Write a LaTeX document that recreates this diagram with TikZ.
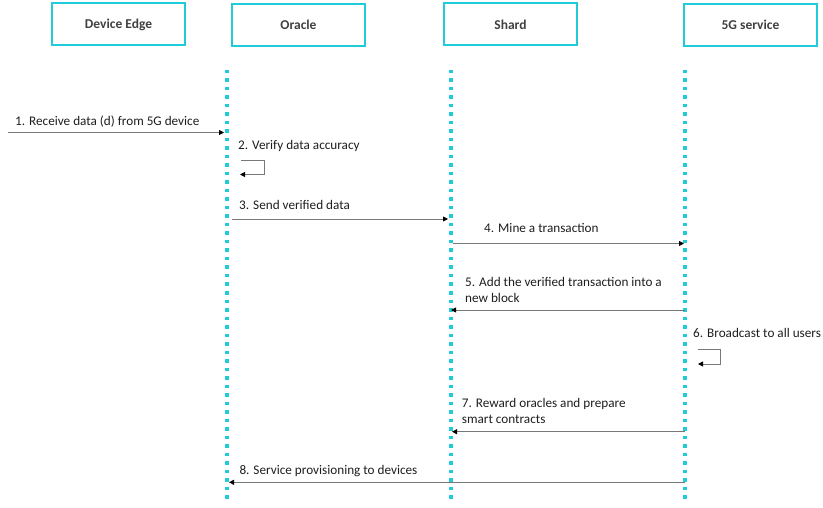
\documentclass[tikz,border=0pt]{standalone}
\usepackage{fontspec}
\setmainfont{Carlito}
\usetikzlibrary{arrows.meta}
\definecolor{cy}{RGB}{32,204,218}
\definecolor{hdr}{RGB}{64,64,64}
\definecolor{lbl}{RGB}{30,30,30}
\definecolor{ln}{RGB}{120,120,120}
\begin{document}
\begin{tikzpicture}[x=1pt,y=-1pt,
  actor/.style={draw=cy,line width=2pt,minimum width=133pt,minimum height=42pt,inner sep=0pt,font=\fontsize{13.5}{16}\selectfont\bfseries,text=hdr},
  life/.style={draw=cy,line width=3.5pt,dash pattern=on 3.5pt off 5pt},
  msg/.style={draw=ln,line width=0.9pt,-{Triangle[length=5pt,width=5pt,color=black,fill=black]}},
  lab/.style={anchor=base west,inner sep=0pt,text=lbl,font=\fontsize{13.2}{16}\selectfont,align=left}]
\useasboundingbox (0,0) rectangle (823,508);
\node[actor] (dev) at (118.5,24.5) {Device Edge};
\node[actor] (ora) at (298.5,25) {Oracle};
\node[actor] (sha) at (510.5,24.5) {Shard};
\node[actor] (fiv) at (750.5,25) {5G service};
% lifelines
\coordinate (oT) at (227,70); \coordinate (oB) at (227,500);
\coordinate (sT) at (451,70); \coordinate (sB) at (451,500);
\coordinate (fT) at (685,70); \coordinate (fB) at (685,500);
\draw[life] (oT) -- (oB);
\draw[life] (sT) -- (sB);
\draw[life] (fT) -- (fB);
% message 1
\coordinate (m1s) at (8,132.5); \coordinate (m1e) at (224,132.5);
\draw[msg] (m1s) -- (m1e);
\node[lab] (l1) at (15,125.3) {1. Receive data (d) from 5G device};
% message 2 self loop
\coordinate (m2a) at (241,160); \coordinate (m2b) at (264,160);
\coordinate (m2c) at (264,174.5); \coordinate (m2d) at (240,174.5);
\draw[msg] (m2a) -- (m2b) -- (m2c) -- (m2d);
\node[lab] (l2) at (238,149.3) {2. Verify data accuracy};
% message 3
\coordinate (m3s) at (232,219); \coordinate (m3e) at (448,219);
\draw[msg] (m3s) -- (m3e);
\node[lab] (l3) at (239,209.3) {3. Send verified data};
% message 4
\coordinate (m4s) at (453,243.5); \coordinate (m4e) at (684,243.5);
\draw[msg] (m4s) -- (m4e);
\node[lab] (l4) at (484,232.7) {4. Mine a transaction};
% message 5
\coordinate (m5s) at (685,310); \coordinate (m5e) at (451,310);
\draw[msg] (m5s) -- (m5e);
\node[lab] (l5) at (465,302) {5. Add the verified transaction into a\\new block};
% message 6 self loop
\coordinate (m6a) at (698,349.3); \coordinate (m6b) at (720.5,349.3);
\coordinate (m6c) at (720.5,364); \coordinate (m6d) at (698,364);
\draw[msg] (m6a) -- (m6b) -- (m6c) -- (m6d);
\node[lab] (l6) at (693,337.3) {6. Broadcast to all users};
% message 7
\coordinate (m7s) at (685,431.7); \coordinate (m7e) at (452,431.7);
\draw[msg] (m7s) -- (m7e);
\node[lab] (l7) at (461.7,423.3) {7. Reward oracles and prepare\\smart contracts};
% message 8
\coordinate (m8s) at (685,482.3); \coordinate (m8e) at (229,482.3);
\draw[msg] (m8s) -- (m8e);
\node[lab] (l8) at (239.3,474.3) {8. Service provisioning to devices};
\end{tikzpicture}
\end{document}
